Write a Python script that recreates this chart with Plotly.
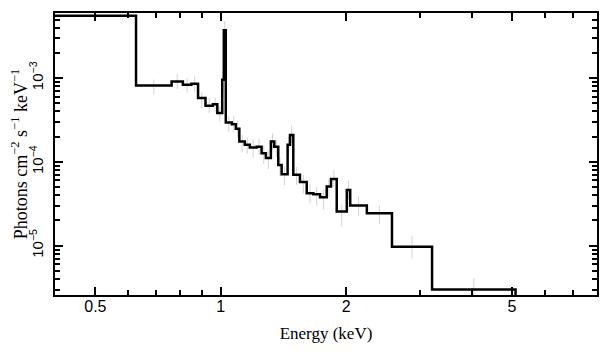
import math
import plotly.graph_objects as go

# Bin edges (keV) of the folded model step histogram
bin_edges = [0.40, 0.626, 0.762, 0.811, 0.850, 0.882, 0.919, 0.957, 0.981, 1.008,
             1.017, 1.028, 1.063, 1.087, 1.108, 1.142, 1.174, 1.219, 1.253, 1.283,
             1.319, 1.344, 1.374, 1.400, 1.447, 1.466, 1.493, 1.549, 1.608, 1.668,
             1.731, 1.796, 1.839, 1.898, 2.007, 2.045, 2.242, 2.576, 3.215, 5.10]

# Model values per bin (photons cm^-2 s^-1 keV^-1)
model_vals = [5.54e-3, 8.16e-4, 9.11e-4, 8.32e-4, 8.55e-4, 5.77e-4, 4.67e-4, 4.86e-4,
              3.82e-4, 9.54e-4, 3.72e-3, 2.95e-4, 2.81e-4, 2.48e-4, 1.75e-4, 1.60e-4,
              1.48e-4, 1.52e-4, 1.27e-4, 1.11e-4, 1.75e-4, 1.52e-4, 9.20e-5, 7.13e-5,
              1.60e-4, 2.10e-4, 7.00e-5, 5.77e-5, 4.23e-5, 4.11e-5, 3.79e-5, 5.07e-5,
              6.26e-5, 2.55e-5, 4.63e-5, 3.01e-5, 2.44e-5, 9.73e-6, 3.01e-6]

# Data points (faint grey error bars) per bin
data_vals = [5.6e-3, 8.0e-4, 9.3e-4, 8.4e-4, 8.7e-4, 5.6e-4, 4.8e-4, 4.9e-4, 3.8e-4,
             9.5e-4, 3.9e-3, 2.9e-4, 2.9e-4, 2.5e-4, 1.7e-4, 1.6e-4, 1.5e-4, 1.55e-4,
             1.25e-4, 1.1e-4, 1.8e-4, 1.5e-4, 9.0e-5, 7.0e-5, 1.6e-4, 2.2e-4, 7.0e-5,
             5.6e-5, 4.3e-5, 4.0e-5, 3.7e-5, 5.0e-5, 6.5e-5, 2.4e-5, 4.8e-5, 3.1e-5,
             2.4e-5, 1.0e-5, 3.1e-6]
data_errs = [0.8e-3, 1.6e-4, 1.9e-4, 1.7e-4, 1.8e-4, 1.2e-4, 1.0e-4, 1.0e-4, 0.8e-4,
             2.5e-4, 0.9e-3, 0.6e-4, 0.6e-4, 0.55e-4, 0.4e-4, 0.35e-4, 0.35e-4, 0.35e-4,
             0.3e-4, 0.28e-4, 0.4e-4, 0.35e-4, 0.22e-4, 0.18e-4, 0.4e-4, 0.5e-4, 0.17e-4,
             0.14e-4, 0.11e-4, 0.1e-4, 0.1e-4, 0.12e-4, 0.15e-4, 0.7e-5, 1.2e-5, 0.8e-5,
             0.6e-5, 3e-6, 1e-6]

x_tickvals = [0.5, 1, 2, 5]
x_ticktext = ["0.5", "1", "2", "5"]
x_minor = [0.4, 0.6, 0.7, 0.8, 0.9, 3, 4, 6, 7, 8]
y_tickvals = [1e-5, 1e-4, 1e-3]
y_ticktext = ["10<sup>\u22125</sup>", "10<sup>\u22124</sup>", "10<sup>\u22123</sup>"]
y_minor = [m * 10.0 ** e for e in (-6, -5, -4, -3) for m in range(2, 10)]

x_range = [0.4, 8.0]
y_range = [2.58e-6, 5.98e-3]
floor_val = 1e-8

centers = [math.sqrt(a * b) for a, b in zip(bin_edges[:-1], bin_edges[1:])]

fig = go.Figure()
fig.add_trace(go.Scatter(
    x=centers, y=data_vals, mode="markers",
    marker=dict(size=1, color="rgba(0,0,0,0)"),
    error_y=dict(type="data", array=data_errs, color="#d2d2d2", thickness=1, width=0),
    showlegend=False, hoverinfo="skip"))

step_x = bin_edges + [bin_edges[-1]]
step_y = model_vals + [model_vals[-1], floor_val]
fig.add_trace(go.Scatter(
    x=step_x, y=step_y, mode="lines", line=dict(color="black", width=2.5, shape="hv"),
    showlegend=False))

axis_common = dict(showline=True, linecolor="black", linewidth=2, mirror="allticks",
                   ticks="inside", tickcolor="black", tickwidth=1.5, ticklen=8,
                   showgrid=False, zeroline=False, automargin=False)
serif = "Liberation Serif, Times New Roman, serif"
sans = "Liberation Sans, Arial, sans-serif"

fig.update_xaxes(type="log", range=[math.log10(x_range[0]), math.log10(x_range[1])],
                 tickmode="array", tickvals=x_tickvals, ticktext=x_ticktext,
                 tickfont=dict(family=sans, size=16, color="black"),
                 ticklabelstandoff=-4,
                 minor=dict(tickmode="array", tickvals=x_minor, ticks="inside", ticklen=5,
                            tickwidth=1.5, tickcolor="black", showgrid=False),
                 title=dict(text="Energy (keV)", standoff=13,
                            font=dict(family=serif, size=17, color="black")),
                 **axis_common)
fig.update_yaxes(type="log", range=[math.log10(y_range[0]), math.log10(y_range[1])],
                 tickmode="array", tickvals=y_tickvals, ticktext=y_ticktext, tickangle=-90,
                 tickfont=dict(family=sans, size=15, color="black"),
                 ticklabelstandoff=4,
                 minor=dict(tickmode="array", tickvals=y_minor, ticks="inside", ticklen=5,
                            tickwidth=1.5, tickcolor="black", showgrid=False),
                 title=dict(text="Photons cm<sup>\u22122</sup> s<sup>\u22121</sup> keV<sup>\u22121</sup>",
                            standoff=4,
                            font=dict(family=serif, size=18, color="black")),
                 **axis_common)

# The page body adds an 8 px margin, so the figure is 8 px smaller each way
fig.update_layout(width=600, height=349, margin=dict(l=47, r=11, t=5, b=62),
                  paper_bgcolor="white", plot_bgcolor="white")

fig.write_html("out.html")
